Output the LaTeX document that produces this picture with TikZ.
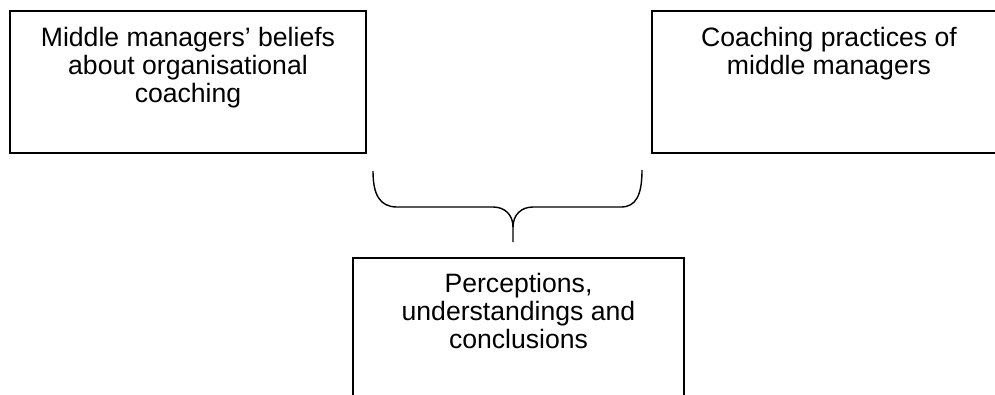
\documentclass[tikz,border=0pt]{standalone}
\usepackage{fontspec}
\setmainfont{Liberation Sans}
\begin{document}
\begin{tikzpicture}[x=1pt,y=-1pt,
  box/.style={draw=black,line width=1.2pt,inner sep=0pt,minimum width=#1,minimum height=142pt},
  label/.style={anchor=north,align=center,inner sep=0pt,font=\fontsize{26.6}{28}\selectfont},
  bracepath/.style={draw=black,line width=1.4pt}]
\useasboundingbox (0,0) rectangle (995,394);
\clip (0,0) rectangle (995,394);
\node[box=356pt] (b1) at (188,82) {};
\node[box=354pt] (b2) at (829,82) {};
\node[box=331pt] (b3) at (518.5,329) {};
\node[label] (t1) at (188,27.5) {Middle managers’ beliefs\\about organisational\\coaching};
\node[label] (t2) at (829,27.5) {Coaching practices of\\middle managers};
\node[label] (t3) at (518.5,273) {Perceptions,\\understandings and\\conclusions};
\coordinate (bl) at (373,171);
\coordinate (br) at (642,170);
\coordinate (bt) at (513,242);
\coordinate (bc) at (513,227);
\path[bracepath] (bl) .. controls (373,195) and (380,207) .. (397,207) -- (493,207)
  .. controls (505,207) and (513,215) .. (bc) -- (bt);
\path[bracepath] (bc) .. controls (513,215) and (521,207) .. (533,207) -- (621,207)
  .. controls (636,207) and (642,195) .. (br);
\end{tikzpicture}
\end{document}
